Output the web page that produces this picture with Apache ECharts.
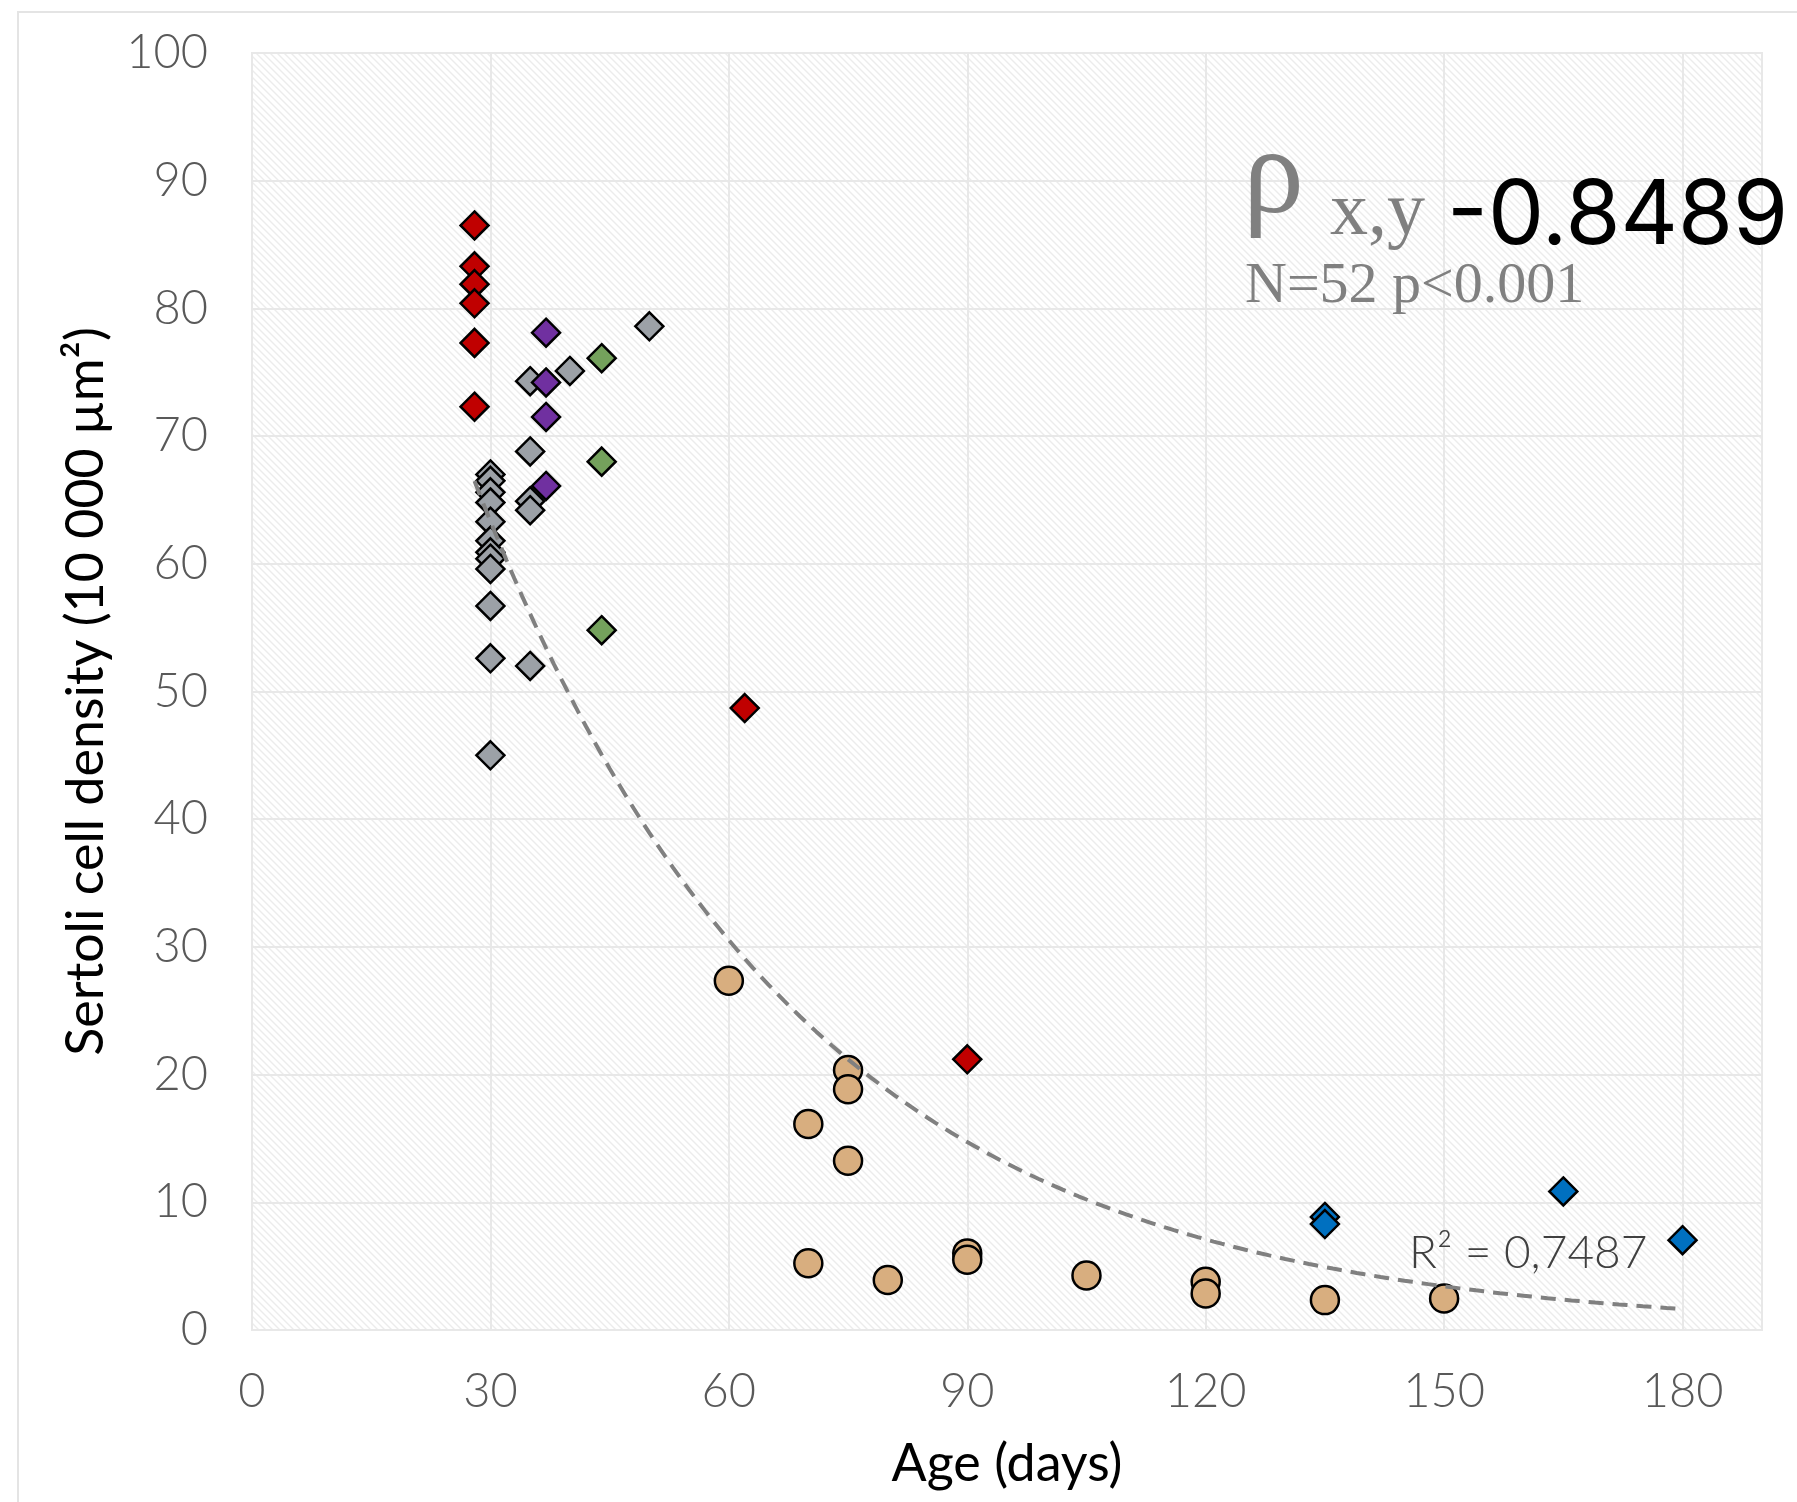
<!DOCTYPE html>
<html><head><meta charset="utf-8">
<script src="https://cdn.jsdelivr.net/npm/echarts@6/dist/echarts.min.js"></script>
<style>html,body{margin:0;padding:0;background:#fff}#c{width:1797px;height:1502px}</style>
</head><body><div id="c"></div>
<script>
// ---- data (age in days, Sertoli cell density) ----
const redX    = [28, 28, 28, 28, 28, 28, 62, 90];
const redY    = [86.5, 83.3, 81.9, 80.4, 77.3, 72.3, 48.7, 21.2];
const purpleX = [37, 37, 37, 37];
const purpleY = [78.1, 74.2, 71.5, 66.1];
const greenX  = [44, 44, 44];
const greenY  = [76.1, 68.0, 54.8];
const grayX   = [50, 40, 35, 35, 35, 35, 35, 30, 30, 30, 30, 30, 30, 30, 30, 30, 30, 30, 30];
const grayY   = [78.6, 75.1, 74.3, 68.8, 64.9, 64.2, 52.0, 67.0, 66.5, 65.6, 64.8, 63.3, 61.8, 60.9, 60.4, 59.6, 56.7, 52.6, 45.0];
const blueX   = [135, 135, 165, 180];
const blueY   = [8.85, 8.3, 10.85, 7.03];
const circX   = [60, 70, 70, 75, 75, 75, 80, 90, 90, 105, 120, 120, 135, 150];
const circY   = [27.35, 16.13, 5.22, 20.36, 18.85, 13.26, 3.92, 6.0, 5.5, 4.27, 3.77, 2.86, 2.34, 2.47];
const xTicks  = [0, 30, 60, 90, 120, 150, 180];
const yTicks  = [0, 10, 20, 30, 40, 50, 60, 70, 80, 90, 100];

const zip = (xs, ys) => xs.map((x, i) => [x, ys[i]]);

// exponential trendline (least squares on ln y), fitted from all points
const allX = [].concat(redX, purpleX, greenX, grayX, blueX, circX);
const allY = [].concat(redY, purpleY, greenY, grayY, blueY, circY);
const n = allX.length;
const mx = allX.reduce((a, b) => a + b, 0) / n;
const ly = allY.map(Math.log);
const my = ly.reduce((a, b) => a + b, 0) / n;
let sxy = 0, sxx = 0;
for (let i = 0; i < n; i++) { sxy += (allX[i] - mx) * (ly[i] - my); sxx += (allX[i] - mx) ** 2; }
const tb = sxy / sxx, ta = Math.exp(my - tb * mx);
const xMinData = Math.min(...allX), xMaxData = Math.max(...allX);
const trend = [];
for (let x = xMinData; x <= xMaxData; x += 1) trend.push([x, ta * Math.exp(tb * x)]);

// hatch pattern for plot background
const pc = document.createElement('canvas');
pc.width = 7; pc.height = 7;
const g = pc.getContext('2d');
g.fillStyle = '#ffffff'; g.fillRect(0, 0, 7, 7);
g.strokeStyle = '#ececec'; g.lineWidth = 1.4;
g.beginPath();
for (const c of [-7, 0, 7]) { g.moveTo(c - 2, -2); g.lineTo(c + 9, 9); }
g.stroke();

const chart = echarts.init(document.getElementById('c'), null, { renderer: 'canvas' });
const tickFont = { fontFamily: 'Lato', fontWeight: 300, fontSize: 47, color: '#595959' };
const diamond = (name, data, color) => ({
  name, type: 'scatter', data, symbol: 'diamond', symbolSize: 28, z: 2,
  itemStyle: { color, borderColor: '#000', borderWidth: 2.5, opacity: 1 }
});

chart.setOption({
  animation: false,
  backgroundColor: '#fff',
  grid: {
    left: 252, top: 53, right: 35, bottom: 172, containLabel: false, outerBoundsMode: 'none',
    show: true, backgroundColor: { image: pc, repeat: 'repeat' }, borderColor: '#e8e8e8', borderWidth: 2
  },
  xAxis: {
    type: 'value', min: 0, max: 190, interval: 30,
    name: 'Age (days)', nameLocation: 'middle', nameGap: 108, nameMoveOverlap: false,
    nameTextStyle: { fontFamily: 'Lato', fontSize: 52, color: '#000' },
    axisLine: { show: false }, axisTick: { show: false },
    axisLabel: Object.assign({ margin: 38, showMaxLabel: false,
      formatter: v => (xTicks.includes(v) ? String(v) : '') }, tickFont),
    splitLine: { show: true, lineStyle: { color: '#e8e8e8', width: 2 } }
  },
  yAxis: {
    type: 'value', min: 0, max: 100, interval: 10,
    name: 'Sertoli cell density (10 000 µm²)', nameLocation: 'middle', nameGap: 140, nameMoveOverlap: false,
    nameTextStyle: { fontFamily: 'Lato', fontSize: 52, color: '#000' },
    axisLine: { show: false }, axisTick: { show: false },
    axisLabel: Object.assign({ margin: 44,
      formatter: v => (yTicks.includes(v) ? String(v) : '') }, tickFont),
    splitLine: { show: true, lineStyle: { color: '#e8e8e8', width: 2 } }
  },
  series: [
    { name: 'circles', type: 'scatter', data: zip(circX, circY), symbol: 'circle', symbolSize: 28, z: 2,
      itemStyle: { color: '#d8ae7f', borderColor: '#000', borderWidth: 2.5, opacity: 1 } },
    diamond('gray', zip(grayX, grayY), '#9ca1a7'),
    diamond('purple', zip(purpleX, purpleY), '#7030a0'),
    diamond('green', zip(greenX, greenY), '#74a15c'),
    diamond('red', zip(redX, redY), '#c00000'),
    diamond('blue', zip(blueX, blueY), '#0070c0'),
    { name: 'trend', type: 'line', data: trend, showSymbol: false, smooth: false, z: 5,
      lineStyle: { color: '#808080', width: 4, type: [15, 9] } }
  ],
  graphic: [
    { type: 'rect', silent: true, z: -10, shape: { x: 18, y: 12, width: 1800, height: 1500 },
      style: { fill: 'none', stroke: '#e4e4e4', lineWidth: 2 } },
    { type: 'text', z: 10, x: 1243, y: 180, style: { text: 'ρ', font: '122px "Liberation Serif"', fill: '#808080', align: 'left', verticalAlign: 'middle' } },
    { type: 'text', z: 10, x: 1330, y: 214, style: { text: 'x,y', font: '76px "Liberation Serif"', fill: '#808080', align: 'left', verticalAlign: 'middle' } },
    { type: 'text', z: 10, x: 1447, y: 217, style: { text: '-0.8489', font: '89px Inter', fill: '#000', align: 'left', verticalAlign: 'middle' } },
    { type: 'text', z: 10, x: 1245, y: 287, style: { text: 'N=52 p<0.001', font: '58px "Liberation Serif"', fill: '#808080', align: 'left', verticalAlign: 'middle' } },
    { type: 'text', z: 10, x: 1409, y: 1253, style: { text: 'R² = 0,7487', font: '300 46px Lato', fill: '#404040', align: 'left', verticalAlign: 'middle' } }
  ]
});
</script></body></html>
